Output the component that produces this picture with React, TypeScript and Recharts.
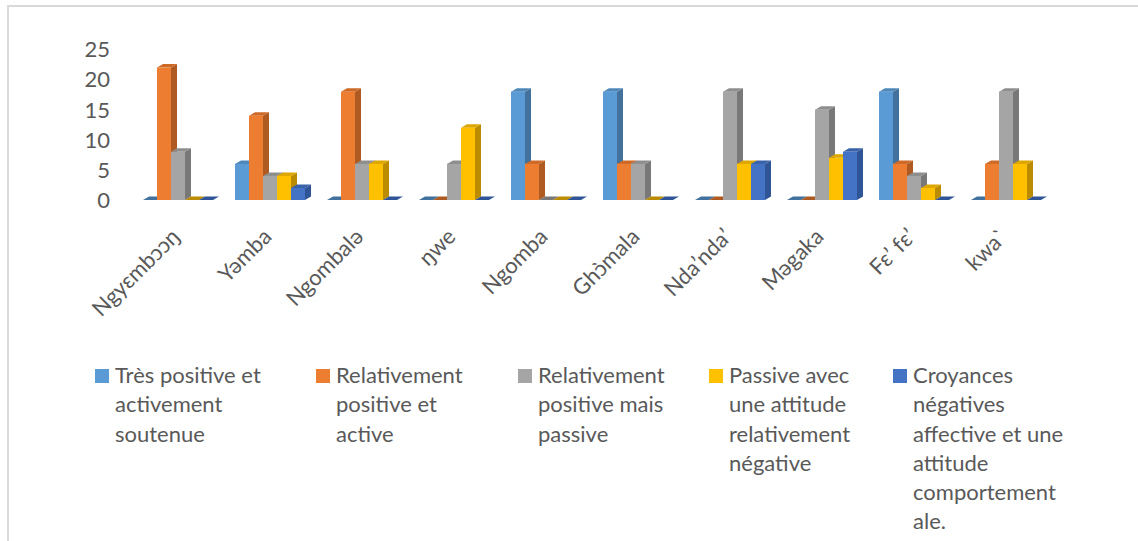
import React from 'react';
import { BarChart, Bar, XAxis, YAxis } from 'recharts';

const categories = ['Ngyɛmbɔɔŋ', 'Yəmba', 'Ngombalə', 'ŋwe', 'Ngomba', 'Ghɔ̀mala', 'Ndaʼndaʼ', 'Məgaka', 'Fɛʼ fɛʼ', 'kwaˋ'];

const tresPositive = [0, 6, 0, 0, 18, 18, 0, 0, 18, 0];
const relPositiveActive = [22, 14, 18, 0, 6, 6, 0, 0, 6, 6];
const relPositivePassive = [8, 4, 6, 6, 0, 6, 18, 15, 4, 18];
const passiveNegative = [0, 4, 6, 12, 0, 0, 6, 7, 2, 6];
const croyancesNegatives = [0, 2, 0, 0, 0, 0, 6, 8, 0, 0];

const yTicks = [0, 5, 10, 15, 20, 25];

// legend labels, wrapped the way the original legend wraps them
const legendLabels = [
  'Très positive et\nactivement\nsoutenue',
  'Relativement\npositive et\nactive',
  'Relativement\npositive mais\npassive',
  'Passive avec\nune attitude\nrelativement\nnégative',
  'Croyances\nnégatives\naffective et une\nattitude\ncomportement\nale.',
];

const series = [
  { key: 's1', values: tresPositive, front: '#5B9BD5', side: '#41719C', top: '#4F87BA' },
  { key: 's2', values: relPositiveActive, front: '#ED7D31', side: '#AE5A21', top: '#CE6A27' },
  { key: 's3', values: relPositivePassive, front: '#A5A5A5', side: '#787878', top: '#8E8E8E' },
  { key: 's4', values: passiveNegative, front: '#FFC000', side: '#BC8C00', top: '#DDA600' },
  { key: 's5', values: croyancesNegatives, front: '#4472C4', side: '#2F5597', top: '#3A62A8' },
];

const data = categories.map((name, i) => {
  const row: Record<string, string | number> = { name };
  series.forEach((s) => { row[s.key] = s.values[i]; });
  return row;
});

const DX = 6;
const DY = 3.5;

const make3d = (front: string, side: string, top: string) => (props: any) => {
  const { x, y, width, height } = props;
  if (x == null || y == null) return <g />;
  const h = Math.max(0, height || 0);
  const w = width;
  return (
    <g>
      {h > 0 && (
        <polygon
          points={`${x + w},${y} ${x + w + DX},${y - DY} ${x + w + DX},${y + h - DY} ${x + w},${y + h}`}
          fill={side}
        />
      )}
      <polygon
        points={`${x},${y} ${x + w},${y} ${x + w + DX},${y - DY} ${x + DX},${y - DY}`}
        fill={h > 0 ? top : side}
      />
      {h > 0 && <rect x={x} y={y} width={w} height={h} fill={front} />}
    </g>
  );
};

const XTick = (props: any) => {
  const { x, y, payload } = props;
  const ax = x + 3;
  const ay = y + 30;
  return (
    <text
      x={ax}
      y={ay}
      transform={`rotate(-45, ${ax}, ${ay})`}
      textAnchor="end"
      fill="#595959"
      fontSize={22}
      fontFamily="Lato"
    >
      {payload.value}
    </text>
  );
};

const legendX = [95, 316, 518, 709, 893];

const App: React.FC = () => (
  <div style={{ position: 'absolute', left: 0, top: 0, width: 1138, height: 541, overflow: 'hidden', background: '#fff', fontFamily: 'Lato' }}>
    <div style={{ position: 'absolute', left: 7, top: 5, width: 1160, height: 560, borderTop: '2px solid #D9D9D9', borderLeft: '2px solid #D9D9D9' }} />
    <div style={{ position: 'absolute', left: 0, top: 0 }}>
      <BarChart
        width={1138}
        height={541}
        data={data}
        margin={{ top: 49.5, right: 86, bottom: 0, left: 72 }}
        barGap={0}
        barSize={14}
      >
        <XAxis
          dataKey="name"
          axisLine={false}
          tickLine={false}
          interval={0}
          height={341}
          tick={<XTick />}
        />
        <YAxis
          width={60}
          domain={[0, 25]}
          ticks={yTicks}
          interval={0}
          axisLine={false}
          tickLine={false}
          tickSize={0}
          tickMargin={22}
          tick={{ fontSize: 22, fill: '#595959', fontFamily: 'Lato' }}
        />
        {series.map((s, i) => (
          <Bar
            key={s.key}
            dataKey={s.key}
            name={legendLabels[i].replace(/\n/g, ' ')}
            fill={s.front}
            shape={make3d(s.front, s.side, s.top)}
            isAnimationActive={false}
          />
        ))}
      </BarChart>
    </div>
    {series.map((s, i) => (
      <div key={s.key} style={{ position: 'absolute', left: legendX[i], top: 360 }}>
        <div style={{ position: 'absolute', left: 0, top: 9, width: 14, height: 14, background: s.front }} />
        <div style={{ position: 'absolute', left: 20, top: 0, whiteSpace: 'pre', fontSize: 22, lineHeight: '29.3px', color: '#595959' }}>
          {legendLabels[i]}
        </div>
      </div>
    ))}
  </div>
);

export default App;
